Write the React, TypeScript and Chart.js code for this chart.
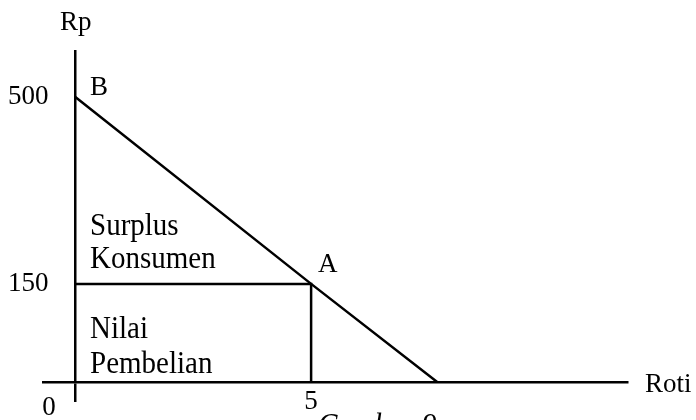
import React, { useEffect, useRef } from "react";
import { Chart, registerables, LinearScale } from "chart.js";

// ---- data ----
const demandQty = [0, 5, 7.67];        // Roti (quantity)
const demandPrice = [500, 150, 0];     // Rp (price)
const purchaseQty = [0, 5, 5];          // rectangle "Nilai Pembelian"
const purchasePrice = [150, 150, 0];
const yTickValues = [150, 500];
const xTickValues = [0, 5];
const xAxisTitle = "Roti";
const yAxisTitle = "Rp";
const pointNames = ["B", "A"];
const surplusLabel = ["Surplus", "Konsumen"];
const purchaseLabel = ["Nilai", "Pembelian"];
const originLabel = "0";
const captionText = "Gambar 9";

// The drawing is schematic: the 150 mark sits where ~172 would be on a true linear axis.
const realBreaks = [0, 150, 500];
const drawnBreaks = [0, 172, 500];

function toDrawn(v: number): number {
  if (v <= realBreaks[0] || v >= realBreaks[realBreaks.length - 1]) return v;
  for (let i = 0; i < realBreaks.length - 1; i++) {
    const a = realBreaks[i], b = realBreaks[i + 1];
    if (v >= a && v <= b) {
      const t = (v - a) / (b - a);
      return drawnBreaks[i] + t * (drawnBreaks[i + 1] - drawnBreaks[i]);
    }
  }
  return v;
}
function fromDrawn(v: number): number {
  if (v <= drawnBreaks[0] || v >= drawnBreaks[drawnBreaks.length - 1]) return v;
  for (let i = 0; i < drawnBreaks.length - 1; i++) {
    const a = drawnBreaks[i], b = drawnBreaks[i + 1];
    if (v >= a && v <= b) {
      const t = (v - a) / (b - a);
      return realBreaks[i] + t * (realBreaks[i + 1] - realBreaks[i]);
    }
  }
  return v;
}

class SchematicScale extends LinearScale {
  static id = "schematic";
  getPixelForValue(value: any): number {
    if (value === null || value === undefined) return NaN;
    return super.getPixelForValue(toDrawn(Number(value)));
  }
  getValueForPixel(pixel: number): number {
    return fromDrawn(super.getValueForPixel(pixel) as number);
  }
}

Chart.register(...registerables, SchematicScale as any);

const INK = "#000";
const FONT = '"Liberation Serif", "DejaVu Serif", serif';
const LABEL_SIZE = 27;
const BLOCK_SIZE = 29;

function stretchedText(ctx: any, text: string, x: number, y: number) {
  ctx.save();
  ctx.translate(x, y);
  ctx.scale(1, 1.1);
  ctx.fillText(text, 0, 0);
  ctx.restore();
}

const labelsPlugin = {
  id: "diagramLabels",
  afterDraw(chart: any) {
    const { ctx, chartArea } = chart;
    const x = chart.scales.x;
    const y = chart.scales.y;
    const ox = x.getPixelForValue(0);
    const oy = y.getPixelForValue(0);
    const bx = x.getPixelForValue(demandQty[0]);
    const by = y.getPixelForValue(demandPrice[0]);
    const ax = x.getPixelForValue(demandQty[1]);
    const ay = y.getPixelForValue(demandPrice[1]);
    ctx.save();
    ctx.fillStyle = INK;
    ctx.textBaseline = "alphabetic";
    ctx.textAlign = "left";
    ctx.font = `${LABEL_SIZE}px ${FONT}`;
    ctx.fillText(yAxisTitle, ox - 15, chartArea.top - 20);
    ctx.fillText(pointNames[0], bx + 15, by - 2);
    ctx.fillText(pointNames[1], ax + 7, ay - 12);
    ctx.fillText(xAxisTitle, chartArea.right + 18, oy + 10);
    ctx.textAlign = "center";
    ctx.fillText(originLabel, ox - 26, oy + 33);
    ctx.textAlign = "left";
    ctx.font = `${BLOCK_SIZE}px ${FONT}`;
    stretchedText(ctx, surplusLabel[0], ox + 15, ay - 49);
    stretchedText(ctx, surplusLabel[1], ox + 15, ay - 16);
    stretchedText(ctx, purchaseLabel[0], ox + 15, ay + 54);
    stretchedText(ctx, purchaseLabel[1], ox + 15, ay + 89);
    ctx.font = `italic ${BLOCK_SIZE}px ${FONT}`;
    stretchedText(ctx, captionText, ax + 7, oy + 53);
    ctx.restore();
  },
};

export default function App() {
  const ref = useRef<HTMLCanvasElement | null>(null);
  useEffect(() => {
    if (!ref.current) return;
    const chart = new Chart(ref.current, {
      type: "line",
      data: {
        datasets: [
          {
            data: demandQty.map((q, i) => ({ x: q, y: demandPrice[i] })),
            borderColor: INK,
            borderWidth: 2.5,
            pointRadius: 0,
            fill: false,
            tension: 0,
          },
          {
            data: purchaseQty.map((q, i) => ({ x: q, y: purchasePrice[i] })),
            borderColor: INK,
            borderWidth: 2.5,
            pointRadius: 0,
            fill: false,
            tension: 0,
          },
        ],
      },
      options: {
        responsive: false,
        animation: false,
        devicePixelRatio: 1,
        layout: { padding: { top: 50, right: 69, left: 0, bottom: 0 } },
        plugins: {
          legend: { display: false },
          tooltip: { enabled: false },
          title: { display: false },
        },
        scales: {
          x: {
            type: "linear",
            min: -0.678,
            max: 11.69,
            afterFit: (s: any) => { s.height = 38; },
            afterBuildTicks: (s: any) => { s.ticks = xTickValues.map((v) => ({ value: v })); },
            border: { display: true, color: INK, width: 2.5 },
            grid: {
              display: true,
              drawOnChartArea: true,
              drawTicks: true,
              tickLength: 20,
              lineWidth: 2.5,
              color: (c: any) => (c.tick && c.tick.value === 0 ? INK : "rgba(0,0,0,0)"),
            },
            ticks: {
              autoSkip: false,
              maxRotation: 0,
              padding: -16,
              color: INK,
              font: { family: FONT, size: LABEL_SIZE },
              callback: (v: any) => (Number(v) === 0 ? "" : String(v)),
            },
          },
          y: {
            type: "schematic" as any,
            min: 0,
            max: 582,
            afterFit: (s: any) => { s.width = 43; },
            afterBuildTicks: (s: any) => { s.ticks = yTickValues.map((v) => ({ value: v })); },
            border: { display: false },
            grid: { display: false },
            ticks: {
              mirror: true,
              crossAlign: "far",
              padding: -35,
              color: INK,
              font: { family: FONT, size: LABEL_SIZE },
              callback: (v: any) => String(v),
            },
          },
        },
      },
      plugins: [labelsPlugin],
    } as any);
    return () => chart.destroy();
  }, []);
  return (
    <div style={{ position: "absolute", left: 0, top: 0, width: 696, height: 420, background: "#fff" }}>
      <canvas ref={ref} width={696} height={420} />
    </div>
  );
}
